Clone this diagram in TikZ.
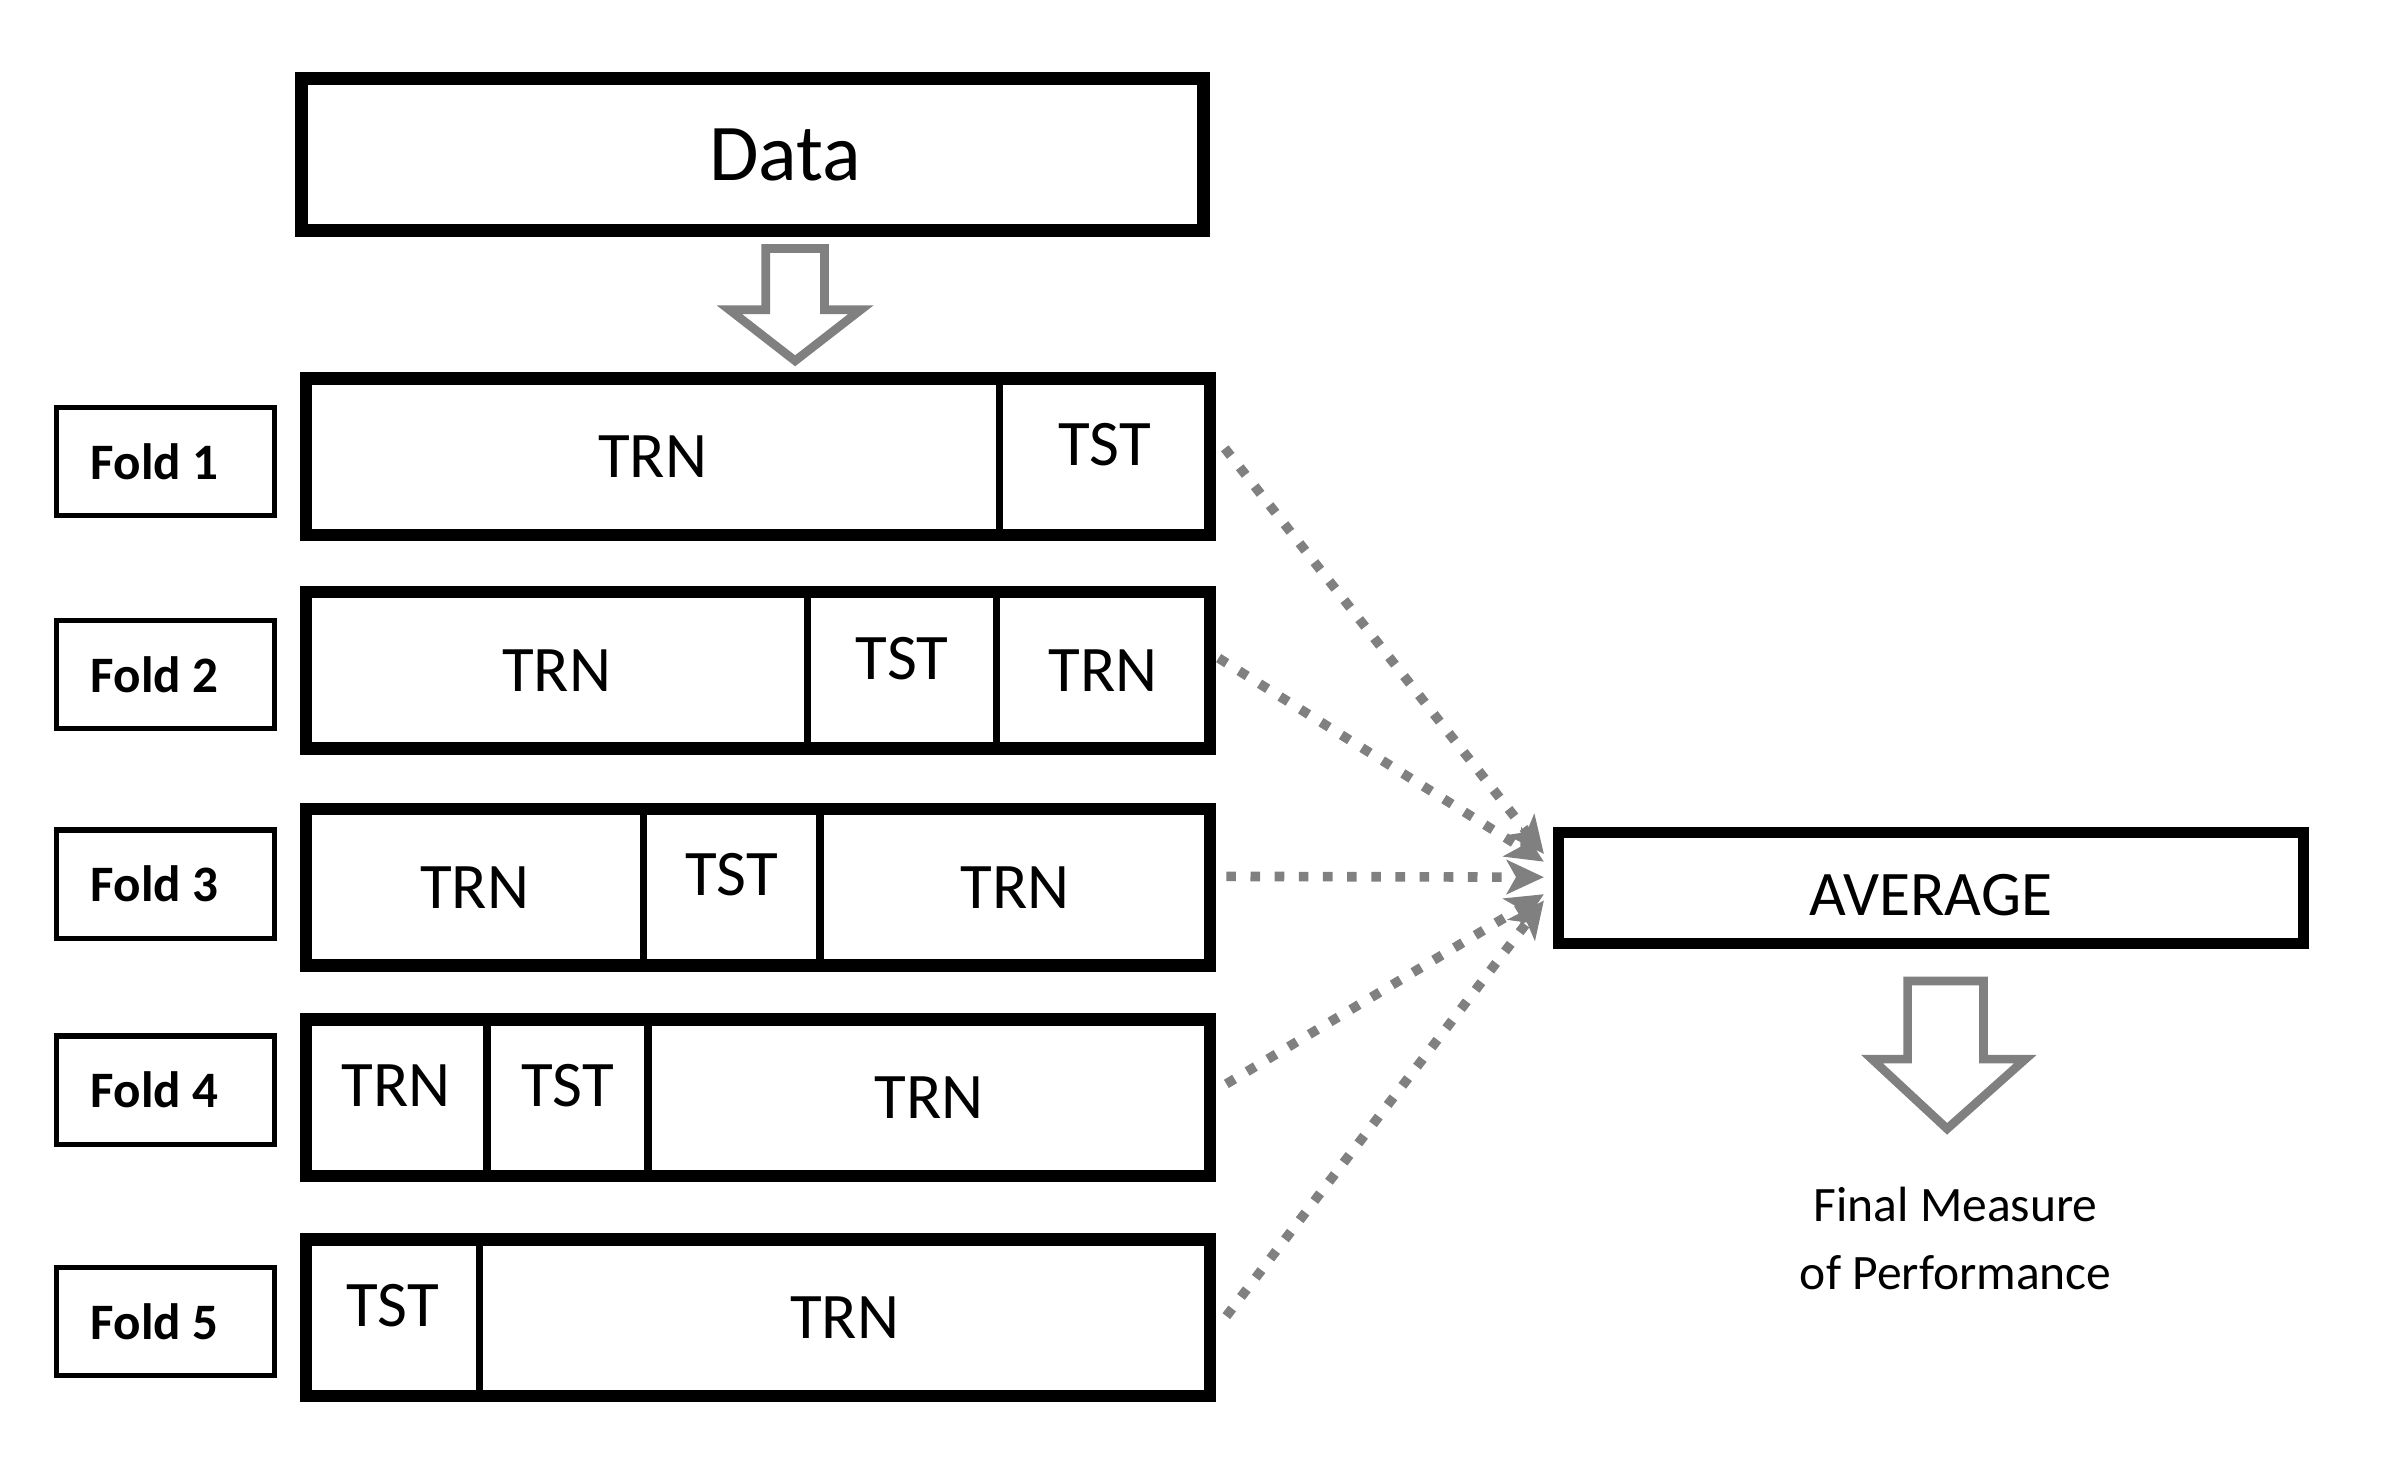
\documentclass[tikz,border=0pt]{standalone}
\usepackage{fontspec}
\setmainfont{Carlito}
\usetikzlibrary{arrows.meta,calc}

\definecolor{linegray}{RGB}{128,128,128}

\begin{document}
\begin{tikzpicture}[x=0.5pt,y=-0.5pt,
  seg/.style={draw, line width=2.4pt, minimum width=#1*0.5pt, minimum height=50.5pt,
    inner sep=0pt, outer sep=0pt, anchor=west, font=\fontsize{21}{25}\selectfont},
  lifted/.style={text depth=8pt},
  rowframe/.style={line width=4pt},
  foldbox/.style={draw, line width=1.7pt, minimum width=70.5pt, minimum height=35pt,
    execute at begin node=\hspace*{-7pt},
    font=\bfseries\fontsize{16.5}{20}\selectfont},
  bigarrow/.style={draw=linegray, line width=2.8pt, line join=miter},
  avgline/.style={draw=linegray, line width=3.1pt, dash pattern=on 3.1pt off 4.7pt,
    -{Stealth[length=12pt,width=11pt,inset=3pt,linegray]}}
]
\useasboundingbox (0,0) rectangle (1550,948);

\node[draw, line width=4.2pt, minimum width=291.5pt, minimum height=49pt,
  font=\fontsize{26}{31}\selectfont] (data) at (486,100) {\hspace*{21pt}Data};

\node[foldbox] (fold1) at (107,298) {Fold 1};
\node[foldbox] (fold2) at (107,435.5) {Fold 2};
\node[foldbox] (fold3) at (107,571) {Fold 3};
\node[foldbox] (fold4) at (107,704) {Fold 4};
\node[foldbox] (fold5) at (107,853.5) {Fold 5};

% fold 1
\node[seg=448] (f1a) at (197.5,295) {TRN};
\node[seg=136, lifted] (f1b) at (f1a.east) {TST};
\draw[rowframe] (f1a.north west) rectangle (f1b.south east);
% fold 2
\node[seg=324] (f2a) at (197.5,433) {TRN};
\node[seg=122, lifted] (f2b) at (f2a.east) {TST};
\node[seg=138] (f2c) at (f2b.east) {TRN};
\draw[rowframe] (f2a.north west) rectangle (f2c.south east);
% fold 3
\node[seg=218] (f3a) at (197.5,573) {TRN};
\node[seg=114, lifted] (f3b) at (f3a.east) {TST};
\node[seg=252] (f3c) at (f3b.east) {TRN};
\draw[rowframe] (f3a.north west) rectangle (f3c.south east);
% fold 4
\node[seg=117, lifted] (f4a) at (197.5,709) {TRN};
\node[seg=104, lifted] (f4b) at (f4a.east) {TST};
\node[seg=363] (f4c) at (f4b.east) {TRN};
\draw[rowframe] (f4a.north west) rectangle (f4c.south east);
% fold 5
\node[seg=112, lifted] (f5a) at (197.5,851) {TST};
\node[seg=472] (f5b) at (f5a.east) {TRN};
\draw[rowframe] (f5a.north west) rectangle (f5b.south east);

\node[draw, line width=3.4pt, minimum width=240.5pt, minimum height=35.7pt,
  text height=18pt, font=\fontsize{20.5}{25}\selectfont] (avg) at (1247,573.5) {AVERAGE};

\node[align=center, font=\fontsize{16}{22}\selectfont] (final) at (1263,800)
  {Final Measure\\of Performance};

% hollow arrows
\draw[bigarrow] (494.5,160.5) -- (532.5,160.5) -- (532.5,200) -- (556,200) -- (513.5,233)
  -- (471,200) -- (494.5,200) -- cycle;
\draw[bigarrow] (1232,633.5) -- (1281,633.5) -- (1281,684) -- (1308,684) -- (1257.5,729)
  -- (1209,684) -- (1232,684) -- cycle;

% dotted arrows to average
\draw[avgline] ($(f1b.east)+(9.5,-5.5)$) -- ($(avg.west)+(-6,-22)$);
\draw[avgline] ($(f2c.east)+(5.5,-8)$) -- ($(avg.west)+(-6,-17)$);
\draw[avgline] ($(f3c.east)+(10.5,-7)$) -- ($(avg.west)+(-6,-7)$);
\draw[avgline] ($(f4c.east)+(10.5,-9)$) -- ($(avg.west)+(-6,4)$);
\draw[avgline] ($(f5b.east)+(10.5,-1)$) -- ($(avg.west)+(-6,8)$);
\end{tikzpicture}
\end{document}
